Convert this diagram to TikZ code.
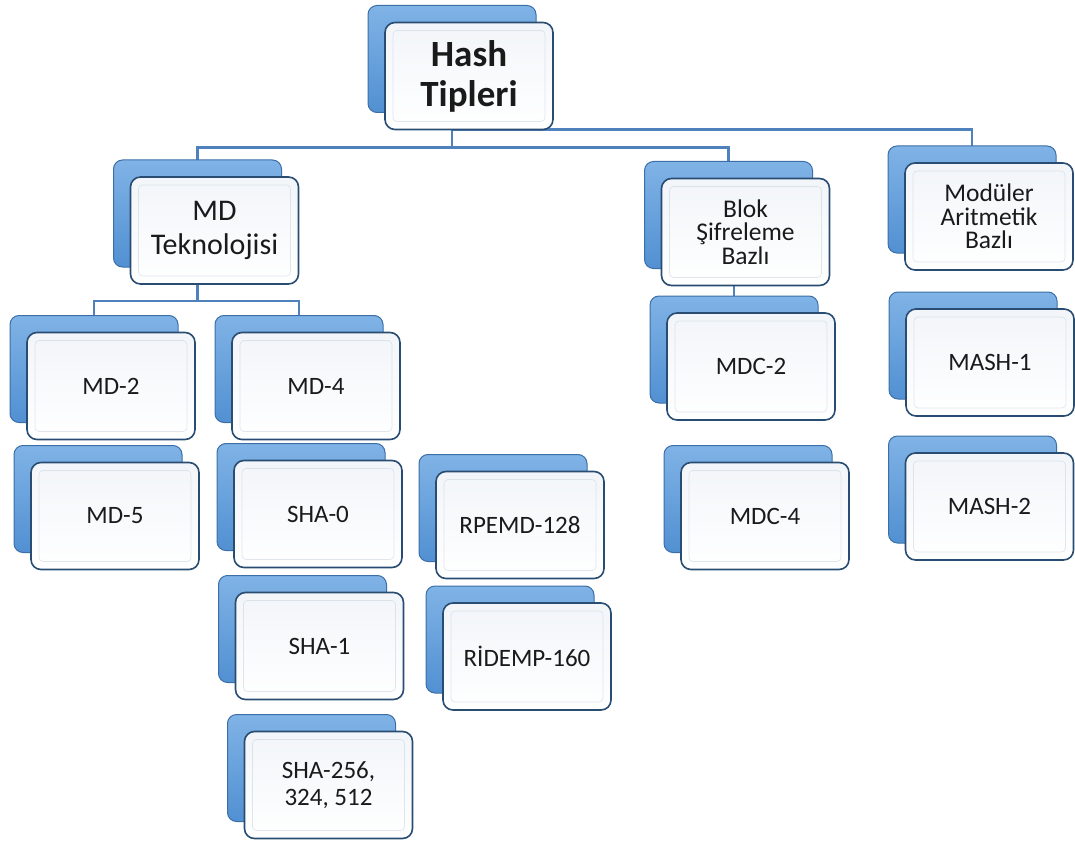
\documentclass[tikz,border=0pt]{standalone}
\usepackage{fontspec}
\setmainfont{Carlito}
\usetikzlibrary{calc}
\pgfdeclarelayer{background}
\pgfsetlayers{background,main}
\definecolor{linkblue}{HTML}{4F81BD}
\definecolor{backedge}{HTML}{3C6EA8}
\definecolor{backtop}{HTML}{80B3E6}
\definecolor{backbottom}{HTML}{5190D2}
\definecolor{frontedge}{HTML}{294C72}
\definecolor{facetop}{HTML}{F2F5F9}
\definecolor{facemid}{HTML}{E4ECF7}
\definecolor{bevelline}{HTML}{C9D3DF}
\definecolor{ink}{HTML}{1A1A1A}

\tikzset{
  link/.style={draw=linkblue, line width=2.4pt},
  backbox/.style={rectangle, rounded corners=9pt, draw=backedge, line width=1pt,
    top color=backtop, bottom color=backbottom,
    minimum width=168pt, minimum height=107pt, inner sep=0pt, outer sep=0pt},
  frontbox/.style={rectangle, rounded corners=10pt, draw=frontedge, line width=1.6pt,
    top color=facetop, middle color=facemid, bottom color=white,
    minimum width=168pt, minimum height=107pt, inner sep=0pt, outer sep=0pt,
    align=center, text=ink, font=\fontsize{25}{27}\selectfont},
  bevel/.style={draw=bevelline, line width=0.7pt, rounded corners=4pt, opacity=0.55},
  titletext/.style={font=\bfseries\fontsize{37}{40}\selectfont},
  grouptext/.style={font=\fontsize{30}{34}\selectfont},
  tighttext/.style={font=\fontsize{25.5}{23.5}\selectfont},
}

% one two-layer box: name, x, y (centre of the front face), style, text
\newcommand\tipbox[5]{%
  \node[backbox] (#1B) at ($(#2,#3)+(-17,-17)$) {};
  \node[frontbox,#4] (#1) at (#2,#3) {#5};
  \draw[bevel] ($(#1.north west)+(8,8)$) rectangle ($(#1.south east)+(-8,-8)$);
}

\begin{document}
\begin{tikzpicture}[x=1pt,y=-1pt]
\useasboundingbox (0,0) rectangle (1075,842);

% root
\tipbox{hash}{469}{76}{titletext}{Hash\\Tipleri}

% MD branch
\tipbox{mdt}{214.5}{230.5}{grouptext}{MD\\Teknolojisi}
\tipbox{md2}{111}{386}{}{MD-2}
\tipbox{md5}{115}{516}{}{MD-5}
\tipbox{md4}{316}{386}{}{MD-4}
\tipbox{sha0}{318}{514}{}{SHA-0}
\tipbox{sha1}{319.5}{646}{}{SHA-1}
\tipbox{sha2}{328.5}{785}{}{SHA-256,\\324, 512}
\tipbox{rpemd}{520}{525}{}{RPEMD-128}
\tipbox{ridemp}{527}{656.5}{}{RİDEMP-160}

% block cipher branch
\tipbox{blok}{745.5}{232}{tighttext}{Blok\\Şifreleme\\Bazlı}
\tipbox{mdc2}{751}{366.5}{}{MDC-2}
\tipbox{mdc4}{765}{516}{}{MDC-4}

% modular arithmetic branch
\tipbox{mod}{989}{216.5}{tighttext}{Modüler\\Aritmetik\\Bazlı}
\tipbox{mash1}{990}{362.5}{}{MASH-1}
\tipbox{mash2}{989.5}{506.5}{}{MASH-2}

% connectors, kept behind the boxes
\begin{pgfonlayer}{background}
  \draw[link] (hashB.south) -- ++(0,17) -| (modB.north);
  \draw[link] (hashB.south) -- ++(0,35) -| (mdtB.north);
  \draw[link] (hashB.south) ++(0,35) -| (blokB.north);
  \draw[link] (mdtB.south) -- ++(0,34) -| (md2B.north);
  \draw[link] (mdtB.south) ++(0,34) -| (md4B.north);
  \draw[link] (mdc2B.north) -- (mdc2B.north |- blok.south);
\end{pgfonlayer}
\end{tikzpicture}
\end{document}
